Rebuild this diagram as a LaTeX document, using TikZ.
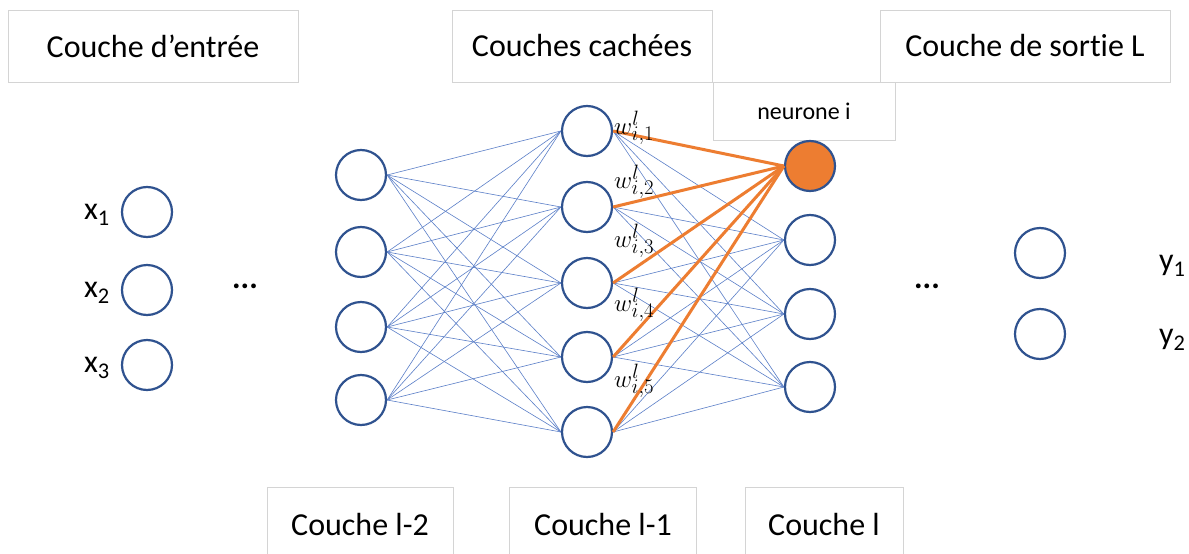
\documentclass[tikz,border=0pt]{standalone}
\usepackage{fontspec}
\setmainfont{Carlito}[Ligatures=NoCommon]
\usepackage{tikz}
\usetikzlibrary{arrows,shapes}
\pgfdeclarelayer{background}
\pgfsetlayers{background,main}
\definecolor{ringblue}{HTML}{2F528F}
\definecolor{linkblue}{HTML}{5B7FC8}
\definecolor{hotorange}{HTML}{ED7D31}
\definecolor{boxgray}{HTML}{D4D4D4}
\tikzstyle{neuron}=[circle, draw=ringblue
,line width=2.2pt
,fill=white
,minimum size=50pt
,inner sep=0pt
]
\tikzstyle{selected neuron} = [neuron, fill=hotorange]
\tikzstyle{layer box} = [draw=boxgray, fill=white, line width=0.8pt, font=\fontsize{32}{38}\selectfont]
\tikzstyle{plain text} = [font=\fontsize{32}{38}\selectfont, inner sep=0pt]
\tikzstyle{link} = [draw=linkblue, line width=0.6pt]
\tikzstyle{weight link} = [draw=hotorange, line width=3pt]

\begin{document}
\begin{tikzpicture}[x=1pt,y=-1pt]
    \clip (0,0) rectangle (1189,554);
    \begin{pgfonlayer}{background}
    \fill[white] (0,0) rectangle (1189,554);
    \end{pgfonlayer}
    % Boxes naming the layers
    \node[layer box, minimum width=182pt, minimum height=58pt, font=\fontsize{24}{28}\selectfont] (neurone) at (804,111) {neurone i};
    \node[layer box, minimum width=290pt, minimum height=72pt] (entree) at (153,46) {Couche d'entrée};
    \node[layer box, minimum width=260pt, minimum height=72pt] (cachees) at (582,46) {Couches cachées};
    \node[layer box, minimum width=290pt, minimum height=72pt] (sortie) at (1025,46) {Couche de sortie L};
    \node[layer box, minimum width=186pt, minimum height=76pt] (lmoinsdeux) at (360,525) {Couche l-2};
    \node[layer box, minimum width=187pt, minimum height=76pt] (lmoinsun) at (603,525) {Couche l-1};
    \node[layer box, minimum width=158pt, minimum height=76pt] (lcur) at (824,525) {Couche l};

    % First we draw the neurons
    \foreach \pos/\name in {{(147,212)/X_1}, {(147,290)/X_2}, {(147,365)/X_3}}
        \node[neuron] (\name) at \pos {};
    \foreach \pos/\name in {{(361,175)/A_1}, {(361,252)/A_2}, {(361,327)/A_3}, {(361,400)/A_4}}
        \node[neuron] (\name) at \pos {};
    \foreach \pos/\name in {{(587,131)/B_1}, {(587,207)/B_2}, {(587,283)/B_3}, {(587,357)/B_4}, {(587,432)/B_5}}
        \node[neuron] (\name) at \pos {};
    \node[selected neuron] (C_1) at (810,166) {};
    \foreach \pos/\name in {{(810,240)/C_2}, {(810,314)/C_3}, {(810,387)/C_4}}
        \node[neuron] (\name) at \pos {};
    \foreach \pos/\name in {{(1040,253)/Y_1}, {(1040,334)/Y_2}}
        \node[neuron] (\name) at \pos {};

    % Inputs, outputs and dots
    \foreach \pos/\name/\txt in {{(110,215)/lx1/x\textsubscript{1}}, {(110,293)/lx2/x\textsubscript{2}}, {(110,368)/lx3/x\textsubscript{3}}}
        \node[plain text, anchor=east] (\name) at \pos {\txt};
    \foreach \pos/\name/\txt in {{(1159,266)/ly1/y\textsubscript{1}}, {(1159,340)/ly2/y\textsubscript{2}}}
        \node[plain text, anchor=west] (\name) at \pos {\txt};
    \node[plain text] (dotsleft) at (245,286) {\textbf{...}};
    \node[plain text] (dotsright) at (927,286) {\textbf{...}};

    % Connect neurons with links
    \begin{pgfonlayer}{background}
    \foreach \source in {A_1, A_2, A_3, A_4}
        \foreach \dest in {B_1, B_2, B_3, B_4, B_5}
            \path[link] (\source.east) -- (\dest.west);
    \foreach \source in {B_1, B_2, B_3, B_4, B_5}
        \foreach \dest in {C_2, C_3, C_4}
            \path[link] (\source.east) -- (\dest.west);
    \end{pgfonlayer}
    \foreach \source in {B_1, B_2, B_3, B_4, B_5}
        \path[weight link] (\source.east) -- (C_1.west);

    % Weights of neuron i
    \foreach \y/\k in {128/1, 182/2, 241/3, 305/4, 381/5}
        \node[anchor=west, inner sep=0pt, font=\fontsize{31}{34}\selectfont] (w\k) at (614,\y) {$w^{l}_{i,\k}$};
\end{tikzpicture}
\end{document}
